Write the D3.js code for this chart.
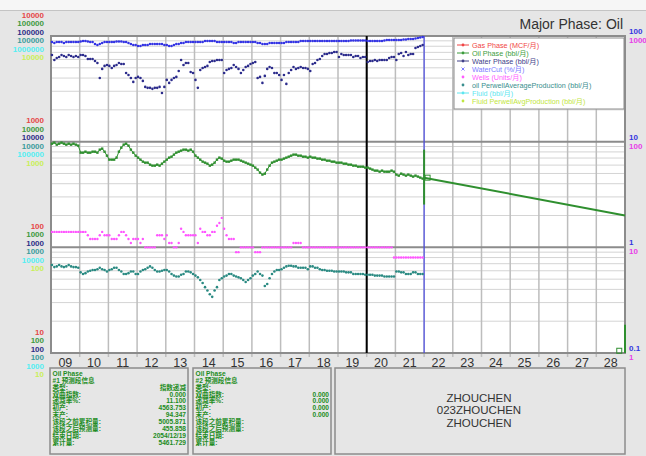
<!DOCTYPE html>
<meta charset="utf-8">
<style>
body { margin: 0; }
text { font-family: "Liberation Sans", Arial, "Noto Sans CJK SC", sans-serif; }
</style>
<svg width="646" height="456"></svg>
<script src="https://d3js.org/d3.v7.min.js"></script>
<script>
var svg = d3.select("svg");

// ---- data ----
var firstYear = 2009;
var yearLabels = ["09","10","11","12","13","14","15","16","17","18","19","20","21","22","23","24","25","26","27","28"];

// monthly, 2009-01 .. 2021-12
var waterCut = [
	87.8,85.9,87.8,87.8,87.8,85.9,87.8,87.8,87.8,87.8,87.8,87.8,
	88.7,89.7,89.7,88.7,87.8,87.8,84.0,82.2,84.0,85.9,87.8,87.8,
	87.8,87.8,87.8,88.7,88.7,88.7,87.8,87.8,85.9,84.0,82.2,82.2,
	80.4,80.4,82.2,82.2,82.2,84.0,84.0,84.0,84.0,84.0,84.0,82.2,
	82.2,80.4,80.4,82.2,84.0,84.0,85.9,85.9,87.8,87.8,87.8,87.8,
	87.8,87.8,87.8,87.8,89.7,89.7,89.7,89.7,89.7,87.8,87.8,87.8,
	87.8,87.8,87.8,87.8,85.9,85.9,87.8,87.8,87.8,87.8,87.8,87.8,
	87.8,87.8,85.9,85.9,84.0,84.0,84.0,85.9,85.9,85.9,85.9,85.9,
	85.9,85.9,87.8,87.8,87.8,87.8,87.8,87.8,89.7,89.7,89.7,89.7,
	89.7,89.7,89.7,89.7,89.7,89.7,89.7,89.7,89.7,89.7,89.7,89.7,
	89.7,89.7,89.7,89.7,89.7,90.7,90.7,90.7,90.7,90.7,90.7,90.7,
	89.7,89.7,89.7,89.7,89.7,89.7,89.7,90.7,91.7,91.7,91.7,91.7,
	91.7,91.7,91.7,92.7,92.7,93.7,93.7,93.7,94.7,95.7,96.8,97.9
];
var waterPhase = [
	66100,59300,62000,63300,66100,64700,63300,66100,64700,63300,64700,63300,
	66100,66100,64700,60600,60600,60600,58000,55600,40100,48800,52100,53200,
	52100,49800,52100,53200,55600,54400,54400,44700,42800,40100,36800,40100,
	41000,40100,37600,33000,32300,32300,31600,32300,32300,33000,28900,33000,
	38400,36000,38400,40100,41000,46700,59300,53200,55600,55600,45700,44700,
	38400,32300,47700,49800,50900,52100,56800,58000,58000,59300,59300,59300,
	44700,47700,48800,49800,53200,50900,48800,44700,47700,50900,52100,54400,
	55600,56800,40100,41000,36000,41900,48800,50900,49800,44700,44700,42800,
	38400,42800,35200,44700,47700,50900,48800,49800,50900,49800,49800,48800,
	46700,54400,55600,59300,60600,64700,67600,67600,69100,69100,70600,70600,
	63300,67600,66100,66100,66100,66100,63300,64700,64700,62000,63300,63300,
	56800,58000,58000,59300,58000,59300,59300,59300,59300,62000,63300,63300,
	59300,67600,69100,64700,70600,66100,67600,67600,77000,78700,80400,82200
];
var oilPhase = [
	9570,9790,9370,9570,9790,9570,9370,9570,9370,9570,9370,9170,
	7870,7870,8040,7870,7870,8040,8040,7870,8400,8590,8040,7370,
	6760,6760,6760,7060,8040,8780,9370,9570,9170,8400,7870,7370,
	7060,6760,6470,6330,6330,6060,5930,5930,6060,5930,6190,6470,
	6760,7060,7210,7540,7870,8040,8220,8400,8400,8220,8400,8040,
	7370,7060,6760,6470,6330,6190,5930,6060,6330,6760,7060,6910,
	6610,6470,6470,6610,6760,6760,6760,6610,6470,6330,6190,6060,
	5930,5680,5440,5090,4880,4980,5440,5930,6330,6470,6610,6760,
	6760,6910,7060,7210,7370,7540,7540,7370,7370,7210,7210,7060,
	7210,7060,7060,6910,6910,6760,6760,6610,6610,6470,6470,6330,
	6330,6330,6190,6190,6060,6060,5930,5930,5800,5800,5800,5680,
	5680,5560,5440,5320,5320,5200,5320,5200,5200,5200,5320,5200,
	4880,4770,4980,4880,4770,4880,4770,4670,4770,4670,4570,4470
];
var wells = [
	14,14,14,14,14,14,14,14,14,14,14,14,14,14,14,13,12,12,12,12,13,14,13,13,
	13,12,12,12,13,14,14,13,12,11,12,12,12,11,12,10,10,10,10,10,13,13,13,12,
	13,11,11,10,10,11,15,14,13,13,13,13,13,11,15,14,14,13,13,14,14,16,17,19,
	15,13,12,12,12,9,9,10,10,10,10,10,10,9,9,9,10,10,10,10,10,10,10,10,
	10,10,10,10,10,11,11,11,11,10,10,10,10,10,10,10,10,10,10,10,10,10,10,10,
	10,10,10,10,10,10,10,10,10,10,10,10,10,10,10,10,10,10,10,10,10,10,10,8,
	8,8,8,8,8,8,8,8,8,8,8,8
];
var oilPerWell = [
	680,650,660,680,660,650,660,680,660,650,650,640,
	580,560,570,590,600,610,610,620,640,620,610,590,
	610,620,640,640,610,590,560,560,570,590,590,560,
	560,590,610,620,640,660,640,610,590,590,600,610,
	610,590,560,540,530,530,550,560,590,590,580,560,
	540,520,490,460,420,390,360,340,390,420,490,510,
	530,540,560,560,540,530,520,510,490,470,490,510,
	540,560,590,560,540,430,450,510,560,590,610,610,
	620,640,660,670,670,660,660,640,640,640,640,620,
	660,660,640,640,620,610,610,600,600,600,590,590,
	590,590,590,580,580,580,560,560,560,560,560,550,
	550,550,550,540,540,540,540,530,530,530,530,530,
	590,590,580,580,560,560,560,580,580,560,560,560
];
// forecast (exponential decline) endpoints
var forecastDates = [2022.0, 2029.0];
var forecastOil = [4564, 2004];
var historyEnd = 2020.0;
var forecastStart = 2022.0;

// left axis stacks (value at bottom of plot, 3 decades)
var leftAxes = [
	{ color: "#e54848", min: 10 },
	{ color: "#3f9a3f", min: 100 },
	{ color: "#2e2e86", min: 100 },
	{ color: "#3c9c9c", min: 100 },
	{ color: "#55eef2", min: 1000 },
	{ color: "#c9ef5a", min: 10 }
];
var rightAxes = [
	{ color: "#3535e0", labels: ["0.1", "1", "10", "100"] },
	{ color: "#e840e8", labels: ["1", "10", "100", "1000"] }
];

var legendItems = [
	{ label: "Gas Phase (MCF/月)", color: "#f04545", type: "line" },
	{ label: "Oil Phase (bbl/月)", color: "#3c9c3c", type: "line" },
	{ label: "Water Phase (bbl/月)", color: "#404088", type: "line" },
	{ label: "WaterCut (%/月)", color: "#7c7cff", type: "cross" },
	{ label: "Wells (Units/月)", color: "#ff5cff", type: "dot" },
	{ label: "oil PerwellAverageProduction (bbl/月)", color: "#3a8e8e", type: "dot" },
	{ label: "Fluid (bbl/月)", color: "#5ee6f0", type: "line" },
	{ label: "Fluid PerwellAvgProduction (bbl/月)", color: "#bfe640", type: "dot" }
];

var boxLabels = ["类型:", "双曲指数:", "递减率%:", "初产:", "末产:", "该段之前累积量:", "该段之后预测量:", "结束日期:", "累计量:"];
var box1Values = ["指数递减", "0.000", "11.100", "4563.753", "94.347", "5005.871", "455.858", "2054/12/19", "5461.729"];
var box2Values = ["", "0.000", "0.000", "0.000", "0.000", "", "", "", ""];
var wellNames = ["ZHOUCHEN", "023ZHOUCHEN", "ZHOUCHEN"];

// ---- layout ----
var L = 51, R = 625, T = 36, B = 353;

svg.append("rect").attr("width", 646).attr("height", 456).attr("fill", "#e6e6e6");
svg.append("rect").attr("width", 646).attr("height", 10).attr("fill", "#f6f6f6");
svg.append("line").attr("x1", 0).attr("x2", 646).attr("y1", 10.5).attr("y2", 10.5)
	.attr("stroke", "#c4c4c4").attr("stroke-width", 1);
svg.append("rect").attr("x", L).attr("y", T).attr("width", R - L).attr("height", B - T).attr("fill", "#fff");

var x = d3.scaleLinear().domain([2009, 2029]).range([L, R]);
var yMain = d3.scaleLog().domain([100, 100000]).range([B, T]);
var yCut = d3.scaleLog().domain([0.1, 100]).range([B, T]);
var yWells = d3.scaleLog().domain([1, 1000]).range([B, T]);
function monthX(i) { return x(firstYear + (i + 0.4) / 12); }

// horizontal grid (log minors)
var minor = [];
[100, 1000, 10000].forEach(function(d) { for (var m = 2; m <= 9; m++) minor.push(d * m); });
svg.append("g").selectAll("line").data(minor).join("line")
	.attr("x1", L).attr("x2", R)
	.attr("y1", function(d) { return yMain(d); }).attr("y2", function(d) { return yMain(d); })
	.attr("stroke", "#d4d4d4").attr("stroke-width", 1);

// vertical year grid + ticks
var years = d3.range(2010, 2029);
svg.append("g").selectAll("line").data(years).join("line")
	.attr("x1", function(d) { return x(d); }).attr("x2", function(d) { return x(d); })
	.attr("y1", T).attr("y2", B + 4)
	.attr("stroke", "#bdbdbd").attr("stroke-width", 1.5);

// major decade lines
svg.append("g").selectAll("line").data([1000, 10000]).join("line")
	.attr("x1", L).attr("x2", R)
	.attr("y1", function(d) { return yMain(d); }).attr("y2", function(d) { return yMain(d); })
	.attr("stroke", "#8c8c8c").attr("stroke-width", 2);

// plot frame
svg.append("rect").attr("x", L).attr("y", T).attr("width", R - L).attr("height", B - T)
	.attr("fill", "none").attr("stroke", "#8c8c8c").attr("stroke-width", 2);

// history end + forecast start markers
svg.append("line").attr("x1", x(historyEnd)).attr("x2", x(historyEnd)).attr("y1", T).attr("y2", B)
	.attr("stroke", "#000").attr("stroke-width", 2);
svg.append("line").attr("x1", x(forecastStart)).attr("x2", x(forecastStart)).attr("y1", T).attr("y2", B)
	.attr("stroke", "#3a3af0").attr("stroke-width", 1);

// series
var idx = d3.range(waterCut.length);
svg.append("g").selectAll("circle").data(idx).join("circle")
	.attr("cx", monthX).attr("cy", function(i) { return yCut(waterCut[i]); })
	.attr("r", 1.3).attr("fill", "#3434e4");
svg.append("g").selectAll("circle").data(idx).join("circle")
	.attr("cx", monthX).attr("cy", function(i) { return yMain(waterPhase[i]); })
	.attr("r", 1.3).attr("fill", "#2c2c8c");

var oilLine = d3.line().x(function(d, i) { return monthX(i); }).y(function(d) { return yMain(d); });
svg.append("path").datum(oilPhase).attr("d", oilLine)
	.attr("fill", "none").attr("stroke", "#2f8f2f").attr("stroke-width", 1);
svg.append("g").selectAll("rect").data(idx).join("rect")
	.attr("x", function(i) { return monthX(i) - 1.2; }).attr("y", function(i) { return yMain(oilPhase[i]) - 1.2; })
	.attr("width", 2.4).attr("height", 2.4).attr("fill", "#2f8f2f");

svg.append("g").selectAll("circle").data(idx).join("circle")
	.attr("cx", monthX).attr("cy", function(i) { return yWells(wells[i]); })
	.attr("r", 1.2).attr("fill", "#ff55ff");
svg.append("g").selectAll("circle").data(idx).join("circle")
	.attr("cx", monthX).attr("cy", function(i) { return yMain(oilPerWell[i]); })
	.attr("r", 1.3).attr("fill", "#2a8a82");

// forecast
svg.append("line")
	.attr("x1", x(forecastDates[0])).attr("y1", yMain(forecastOil[0]))
	.attr("x2", x(forecastDates[1])).attr("y2", yMain(forecastOil[1]))
	.attr("stroke", "#2f8f2f").attr("stroke-width", 2);
svg.append("line").attr("x1", x(forecastStart)).attr("x2", x(forecastStart))
	.attr("y1", yMain(8400)).attr("y2", yMain(2540))
	.attr("stroke", "#2f8f2f").attr("stroke-width", 2);
svg.append("rect").attr("x", x(forecastStart) + 1).attr("y", yMain(forecastOil[0]) - 2.5)
	.attr("width", 5).attr("height", 5).attr("fill", "none").attr("stroke", "#2f8f2f").attr("stroke-width", 1);
svg.append("line").attr("x1", R).attr("x2", R).attr("y1", yMain(185)).attr("y2", B)
	.attr("stroke", "#2f8f2f").attr("stroke-width", 2);
svg.append("rect").attr("x", x(2028.8) - 2.5).attr("y", yMain(105) - 2.5)
	.attr("width", 5).attr("height", 5).attr("fill", "none").attr("stroke", "#2f8f2f").attr("stroke-width", 1);

// left stacked axis labels
var offs = [-21.5, -13, -4.5, 4, 12.5, 21];
[0, 1, 2, 3].forEach(function(k) {
	var yb = yMain(100 * Math.pow(10, k));
	leftAxes.forEach(function(a, j) {
		svg.append("text").attr("x", 44).attr("y", yb + offs[j] + 3)
			.attr("text-anchor", "end").attr("font-size", 8).attr("font-weight", "bold")
			.attr("fill", a.color).text(d3.format("d")(a.min * Math.pow(10, k)));
	});
	rightAxes.forEach(function(a, j) {
		svg.append("text").attr("x", 629).attr("y", yb + (j === 0 ? -5 : 4) + 3)
			.attr("font-size", 8).attr("font-weight", "bold")
			.attr("fill", a.color).text(a.labels[k]);
	});
});

// x labels
svg.append("g").selectAll("text").data(yearLabels).join("text")
	.attr("x", function(d, i) { return x(firstYear + i + 0.5); }).attr("y", 366.5)
	.attr("text-anchor", "middle").attr("font-size", 12.5).attr("fill", "#333").text(function(d) { return d; });

// title
svg.append("text").attr("x", 623).attr("y", 29).attr("text-anchor", "end")
	.attr("font-size", 14).attr("fill", "#333").text("Major Phase: Oil");

// legend
var lg = svg.append("g");
lg.append("rect").attr("x", 454).attr("y", 38).attr("width", 170).attr("height", 71)
	.attr("fill", "#fff").attr("stroke", "#8c8c8c").attr("stroke-width", 1);
legendItems.forEach(function(d, i) {
	var yy = 45 + i * 8;
	if (d.type === "line") {
		lg.append("line").attr("x1", 457).attr("x2", 469).attr("y1", yy).attr("y2", yy)
			.attr("stroke", d.color).attr("stroke-width", 1);
	}
	if (d.type === "cross") {
		lg.append("path").attr("d", "M461.5," + (yy - 1.5) + "l3,3M464.5," + (yy - 1.5) + "l-3,3")
			.attr("stroke", d.color).attr("stroke-width", 1);
	} else {
		lg.append("circle").attr("cx", 463).attr("cy", yy).attr("r", 1.4).attr("fill", d.color);
	}
	lg.append("text").attr("x", 472).attr("y", yy + 2.5).attr("font-size", 7.2)
		.attr("fill", d.color).text(d.label);
});

// info boxes
function infoBox(bx, bw, num, values) {
	svg.append("rect").attr("x", bx).attr("y", 368).attr("width", bw).attr("height", 86)
		.attr("fill", "#e6e6e6").attr("stroke", "#8c8c8c").attr("stroke-width", 1.5);
	var lines = ["Oil Phase", "#" + num + "  预测段信息"].concat(boxLabels);
	lines.forEach(function(t, i) {
		svg.append("text").attr("x", bx + 2.5).attr("y", 375.8 + i * 6.9)
			.attr("font-size", 6.6).attr("font-weight", "bold").attr("fill", "#228c22").text(t);
	});
	values.forEach(function(v, i) {
		svg.append("text").attr("x", bx + bw - 2).attr("y", 375.8 + (i + 2) * 6.9)
			.attr("text-anchor", "end").attr("font-size", 6.6).attr("font-weight", "bold")
			.attr("fill", "#228c22").text(v);
	});
}
infoBox(50, 138, 1, box1Values);
infoBox(193, 138, 2, box2Values);
svg.append("rect").attr("x", 335).attr("y", 368).attr("width", 290).attr("height", 86)
	.attr("fill", "#e6e6e6").attr("stroke", "#8c8c8c").attr("stroke-width", 1.5);
wellNames.forEach(function(t, i) {
	svg.append("text").attr("x", 479).attr("y", 401.5 + i * 12.5).attr("text-anchor", "middle")
		.attr("font-size", 11.5).attr("fill", "#333").text(t);
});
</script>
